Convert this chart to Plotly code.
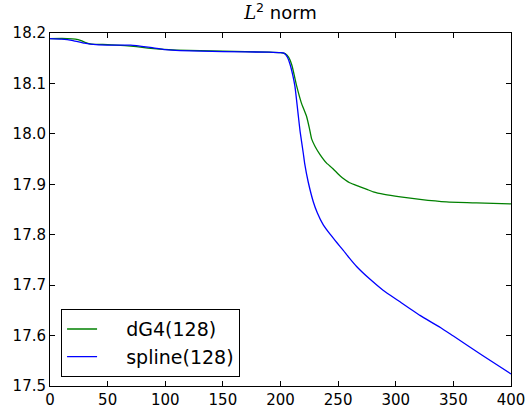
import plotly.graph_objects as go

# ---- data ----
dg4_x = [0, 15, 22, 27, 31, 36, 50, 65, 75, 85, 95, 110, 150, 190, 200, 204, 207, 210, 214, 218,
         222.7, 225, 227, 230, 234, 240, 245, 251.6, 256, 260, 268, 275, 280.5, 290, 304, 321, 344, 370, 400]
dg4_y = [18.189, 18.189, 18.188, 18.185, 18.181, 18.178, 18.177, 18.175, 18.173, 18.170, 18.168, 18.166,
         18.164, 18.162, 18.161, 18.159, 18.152, 18.135, 18.095, 18.062, 18.034, 18.012, 17.990, 17.975,
         17.960, 17.942, 17.932, 17.917, 17.909, 17.903, 17.896, 17.890, 17.885, 17.880, 17.875, 17.870,
         17.865, 17.863, 17.861]

spline_x = [0, 10, 20, 30, 40, 55, 70, 85, 100, 113, 150, 190, 200, 203, 206, 208, 210.5, 212.6, 215.5,
            217, 219.8, 221, 224, 228.5, 232, 237, 243, 249, 254.5, 260, 266, 278, 289, 303.7, 321, 338.7,
            350, 375, 400]
spline_y = [18.189, 18.188, 18.185, 18.180, 18.177, 18.176, 18.176, 18.172, 18.167, 18.165, 18.163, 18.162,
            18.161, 18.160, 18.152, 18.140, 18.118, 18.093, 18.035, 18.005, 17.961, 17.941, 17.905, 17.865,
            17.843, 17.820, 17.801, 17.784, 17.769, 17.753, 17.737, 17.711, 17.690, 17.667, 17.640, 17.616,
            17.599, 17.561, 17.524]

x_ticks = [0, 50, 100, 150, 200, 250, 300, 350, 400]
y_ticks = [17.5, 17.6, 17.7, 17.8, 17.9, 18.0, 18.1, 18.2]

pad = "\u00a0" * 4

fig = go.Figure()
fig.add_trace(go.Scatter(x=dg4_x, y=dg4_y, mode="lines", name=pad + "dG4(128)",
                         line=dict(color="#008000", width=1.3, shape="spline", smoothing=0.4)))
fig.add_trace(go.Scatter(x=spline_x, y=spline_y, mode="lines", name=pad + "spline(128)",
                         line=dict(color="#0000ff", width=1.3, shape="spline", smoothing=0.4)))

axis_common = dict(showline=True, linecolor="black", linewidth=1, mirror="ticks",
                   ticks="inside", ticklen=5, tickwidth=1, tickcolor="black",
                   showgrid=False, zeroline=False, automargin=False,
                   tickfont=dict(family="DejaVu Sans", size=15, color="black"))

fig.update_layout(
    width=531, height=409,
    margin=dict(l=50, r=20, t=33, b=23),
    paper_bgcolor="white", plot_bgcolor="white",
    font=dict(family="DejaVu Sans", color="black"),
    title=dict(text="<span style=\"font-family:'DejaVu Serif'\"><i>L</i></span><sup>2</sup> norm",
               x=0.5, xref="paper", xanchor="center", y=1 - 13 / 409, yref="container",
               yanchor="middle", font=dict(family="DejaVu Sans", size=18, color="black")),
    xaxis=dict(range=[0, 400], tickvals=x_ticks, **axis_common),
    yaxis=dict(range=[17.5, 18.2], tickvals=y_ticks, tickformat=".1f", **axis_common),
    legend=dict(x=0.024, y=0.025, xanchor="left", yanchor="bottom",
                bordercolor="black", borderwidth=1, bgcolor="white",
                font=dict(family="DejaVu Sans", size=19, color="black")),
    showlegend=True,
)

fig.write_html("out.html")
